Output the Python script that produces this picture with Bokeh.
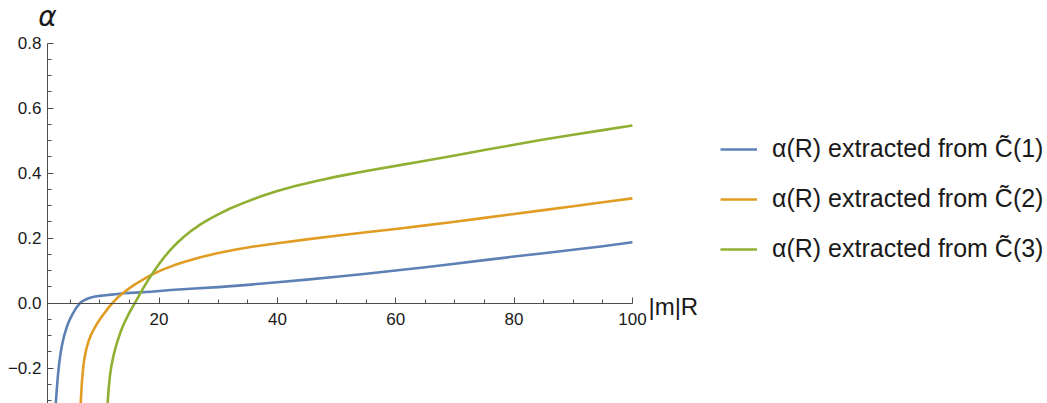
from bokeh.plotting import figure
from bokeh.models import (Range1d, LinearAxis, FixedTicker, CustomJSTickFormatter,
                          Label, Legend, LegendItem)
from bokeh.embed import file_html
from bokeh.resources import INLINE

# ---- data ----
blue_x = [2.4, 2.55, 2.7, 2.9, 3.1, 3.35, 3.6, 3.9, 4.2, 4.5, 4.8, 5.1, 5.35, 5.7, 6.0, 6.3,
          6.65, 7.0, 7.5, 8.0, 8.5, 9.2, 10, 11, 12, 13, 14, 16, 18.6,
          22, 26, 30, 35, 40, 45, 50, 55, 60, 65, 70, 75, 80, 85, 90, 95, 100]
blue_y = [-0.36, -0.31, -0.27, -0.225, -0.19, -0.155, -0.13, -0.105, -0.086, -0.069, -0.055,
          -0.044, -0.035, -0.024, -0.015, -0.008, 0.0, 0.005, 0.010, 0.014, 0.017, 0.020,
          0.022, 0.024, 0.026, 0.028, 0.030, 0.032, 0.035,
          0.040, 0.045, 0.049, 0.056, 0.064, 0.072, 0.081, 0.090, 0.100, 0.110, 0.121,
          0.132, 0.143, 0.153, 0.164, 0.175, 0.187]

orange_x = [6.6, 6.76, 6.9, 7.05, 7.2, 7.35, 7.55, 7.8, 8.1, 8.5, 8.9, 9.4, 10.0, 10.6,
            11.3, 12.1, 13.0, 14.0, 15.0, 16.0, 17.0, 18.6, 20.5, 22.5, 24.5, 27, 30, 33,
            36, 40, 45, 50, 55, 60, 65, 70, 75, 80, 85, 90, 95, 100]
orange_y = [-0.38, -0.31, -0.262, -0.224, -0.196, -0.175, -0.155, -0.135, -0.117, -0.098,
            -0.083, -0.067, -0.050, -0.035, -0.018, 0.0, 0.017, 0.032, 0.046, 0.058, 0.069,
            0.086, 0.102, 0.116, 0.128, 0.141, 0.154, 0.165, 0.174, 0.184, 0.196, 0.207,
            0.218, 0.228, 0.239, 0.250, 0.262, 0.274, 0.286, 0.298, 0.310, 0.322]

green_x = [11.1, 11.3, 11.5, 11.7, 11.95, 12.3, 12.7, 13.1, 13.5, 14.0, 14.5, 15.0, 15.5,
           15.9, 16.5, 17.0, 17.5, 18.0, 18.6, 19.3, 20.0, 21, 22, 23, 24.2, 25.5, 27,
           28.5, 30, 32, 34, 36, 38, 40, 43, 46.8, 50, 55, 60, 65, 70, 75, 80, 85, 90, 95,
           100]
green_y = [-0.37, -0.31, -0.26, -0.224, -0.193, -0.162, -0.134, -0.110, -0.089, -0.066,
           -0.047, -0.029, -0.013, 0.0, 0.019, 0.035, 0.051, 0.066, 0.083, 0.102, 0.120,
           0.144, 0.165, 0.184, 0.204, 0.223, 0.242, 0.258, 0.273, 0.291, 0.306, 0.320,
           0.333, 0.345, 0.360, 0.376, 0.389, 0.406, 0.422, 0.438, 0.454, 0.471, 0.487,
           0.503, 0.518, 0.532, 0.546]

labels = ["α(R) extracted from C̃(1)", "α(R) extracted from C̃(2)", "α(R) extracted from C̃(3)"]
colors = ["#5E81B5", "#E19C24", "#8FB032"]

x_major = [20, 40, 60, 80, 100]
x_minor = [5, 10, 15, 25, 30, 35, 45, 50, 55, 65, 70, 75, 85, 90, 95]
y_major = [-0.2, 0.0, 0.2, 0.4, 0.6, 0.8]
y_minor = [-0.3, -0.25, -0.15, -0.1, -0.05, 0.05, 0.1, 0.15, 0.25, 0.3, 0.35, 0.45, 0.5,
           0.55, 0.65, 0.7, 0.75]

X_START = 1.15
X_END = 100
Y_BOTTOM = -0.309
Y_TOP = 0.8

FONT = "Liberation Sans"
AXIS_COLOR = "#4d4d4d"
TEXT_COLOR = "#1a1a1a"

p = figure(width=1047, height=403, output_backend="svg", toolbar_location=None,
           x_range=Range1d(-6.793, 170.15), y_range=Range1d(Y_BOTTOM, 0.9308),
           x_axis_type=None, y_axis_type=None,
           min_border_left=0, min_border_right=0, min_border_top=0, min_border_bottom=0)
p.outline_line_color = None
p.background_fill_color = "white"
p.border_fill_color = "white"


def style_axis(ax):
    ax.axis_line_color = AXIS_COLOR
    ax.axis_line_width = 1
    ax.major_tick_line_color = AXIS_COLOR
    ax.minor_tick_line_color = AXIS_COLOR
    ax.major_tick_in = 6
    ax.major_tick_out = 0
    ax.minor_tick_in = 4
    ax.minor_tick_out = 0
    ax.major_label_text_font = FONT
    ax.major_label_text_font_size = "17px"
    ax.major_label_text_color = TEXT_COLOR


yax = LinearAxis(ticker=FixedTicker(ticks=y_major, minor_ticks=y_minor),
                 fixed_location=X_START, bounds=(Y_BOTTOM, Y_TOP),
                 formatter=CustomJSTickFormatter(code="return tick.toFixed(1).replace('-', '\u2212')"))
style_axis(yax)
yax.major_label_standoff = 6
p.add_layout(yax, "left")

xax = LinearAxis(ticker=FixedTicker(ticks=x_major, minor_ticks=x_minor),
                 fixed_location=0, bounds=(X_START, X_END))
style_axis(xax)
xax.major_label_standoff = 10
p.add_layout(xax, "below")

renderers = []
for xs, ys, c in [(blue_x, blue_y, colors[0]), (orange_x, orange_y, colors[1]),
                  (green_x, green_y, colors[2])]:
    r = p.line(xs, ys, line_color=c, line_width=2.6, line_join="round")
    renderers.append(r)

legend = Legend(items=[LegendItem(label=l, renderers=[r]) for l, r in zip(labels, renderers)],
                location=(720, 140), orientation="vertical")
legend.border_line_color = None
legend.background_fill_alpha = 0
legend.padding = 0
legend.margin = 0
legend.spacing = 21
legend.glyph_width = 37
legend.glyph_height = 28
legend.label_height = 28
legend.label_standoff = 15
legend.label_text_font = FONT
legend.label_text_font_size = "25px"
legend.label_text_color = TEXT_COLOR
p.add_layout(legend, "center")

p.add_layout(Label(x=X_START, y=Y_TOP, text="α", text_font="DejaVu Sans",
                   text_font_style="italic", text_font_size="28px", text_align="center",
                   text_baseline="middle", y_offset=27, text_color=TEXT_COLOR))
p.add_layout(Label(x=X_END, y=0, text="|m|R", text_font=FONT, text_font_size="24px",
                   text_align="left", text_baseline="middle", x_offset=16, y_offset=-3,
                   text_color=TEXT_COLOR))

open("out.html", "w").write(file_html(p, INLINE))
